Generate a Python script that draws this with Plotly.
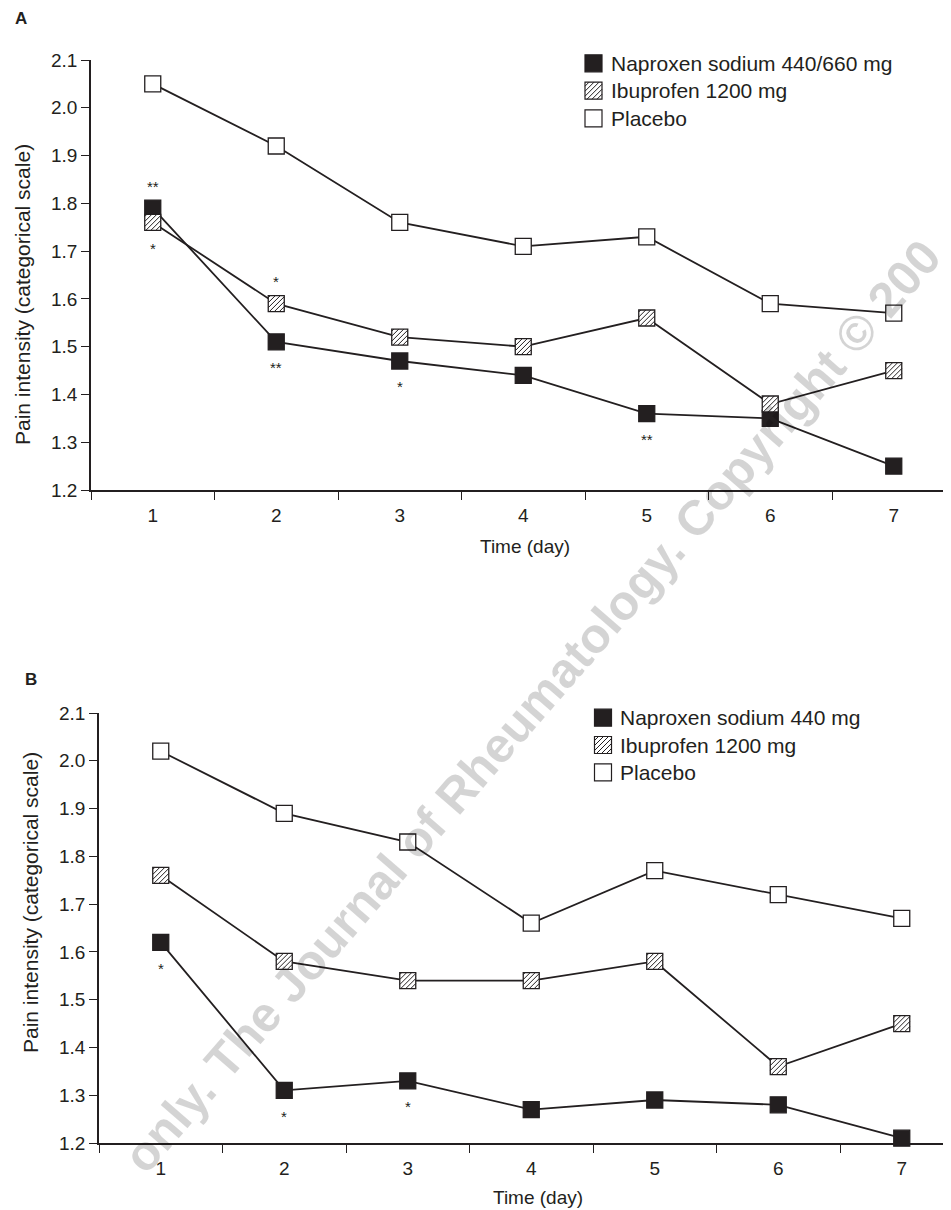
import plotly.graph_objects as go

# ---------------- data ----------------
days = [1, 2, 3, 4, 5, 6, 7]
day_labels = ["1", "2", "3", "4", "5", "6", "7"]
y_ticks = [1.2, 1.3, 1.4, 1.5, 1.6, 1.7, 1.8, 1.9, 2.0, 2.1]

naproxen_A = [1.79, 1.51, 1.47, 1.44, 1.36, 1.35, 1.25]
ibuprofen_A = [1.76, 1.59, 1.52, 1.50, 1.56, 1.38, 1.45]
placebo_A = [2.05, 1.92, 1.76, 1.71, 1.73, 1.59, 1.57]

naproxen_B = [1.62, 1.31, 1.33, 1.27, 1.29, 1.28, 1.21]
ibuprofen_B = [1.76, 1.58, 1.54, 1.54, 1.58, 1.36, 1.45]
placebo_B = [2.02, 1.89, 1.83, 1.66, 1.77, 1.72, 1.67]

legend_A = ["Naproxen sodium 440/660 mg", "Ibuprofen 1200 mg", "Placebo"]
legend_B = ["Naproxen sodium 440 mg", "Ibuprofen 1200 mg", "Placebo"]

x_title = "Time (day)"
y_title = "Pain intensity (categorical scale)"
watermark = "only. The Journal of Rheumatology. Copyright © 200"

# significance marks: (series, day, text, side)
sig_A = [("nap", 1, "**", "above"), ("ibu", 1, "*", "below"), ("ibu", 2, "*", "above"),
         ("nap", 2, "**", "below"), ("nap", 3, "*", "below"), ("nap", 5, "**", "below")]
sig_B = [("nap", 1, "*", "below"), ("nap", 2, "*", "below"), ("nap", 3, "*", "below")]

# ---------------- styling ----------------
OFF = 8                      # page body margin of the html page
W, H = 951 - OFF, 1210 - OFF
INK = "#231f20"
FONT = "Liberation Sans, Arial, Helvetica, sans-serif"
MSIZE = 16


def fx(px):
    return (px - OFF) / W


def fy(py):
    return 1 - (py - OFF) / H


def hatch_path(h=8, step=5):
    parts = []
    c = -2 * h + step
    while c < 2 * h:
        if c >= 0:
            x0, y0, x1, y1 = -h, -h + c, h - c, h
        else:
            x0, y0, x1, y1 = -h - c, -h, h, h + c
        parts.append(f"M{x0},{y0}L{x1},{y1}")
        c += step
    return "".join(parts)


HATCH = hatch_path(8, 5)

fig = go.Figure()

panels = [
    dict(xa="x", ya="y", nap=naproxen_A, ibu=ibuprofen_A, pla=placebo_A,
         left=91, top=60, bottom=490, sig=sig_A, legend=legend_A,
         lx=593.5, ltx=609, lrows=[63.3, 90.7, 118.3], label="A", lab_xy=(13, 19),
         ytitle_xy=(22, 295), xtitle_xy=(525, 546)),
    dict(xa="x2", ya="y2", nap=naproxen_B, ibu=ibuprofen_B, pla=placebo_B,
         left=99, top=713, bottom=1143, sig=sig_B, legend=legend_B,
         lx=603, ltx=618, lrows=[717.7, 745, 772.3], label="B", lab_xy=(23, 680),
         ytitle_xy=(30, 903), xtitle_xy=(538, 1197)),
]

shapes = []
annotations = []
SPACING = 123.5  # px per day

# watermark (faint, drawn semi-transparent so the data stays visible)
annotations.append(dict(x=fx(532), y=fy(706), xref="paper", yref="paper", text=watermark,
                        showarrow=False, textangle=-49,
                        font=dict(size=49, color="rgba(0,0,0,0.17)", family=FONT, weight="bold")))

for i, p in enumerate(panels):
    series = [
        ("nap", p["nap"], INK),
        ("ibu", p["ibu"], "white"),
        ("pla", p["pla"], "white"),
    ]
    for key, vals, fill in series:
        fig.add_trace(go.Scatter(
            x=days, y=vals, mode="lines+markers", xaxis=p["xa"], yaxis=p["ya"],
            line=dict(color=INK, width=1.8),
            marker=dict(symbol="square", size=MSIZE, color=fill, line=dict(color=INK, width=1.3)),
            cliponaxis=False, showlegend=False, hoverinfo="skip"))
        if key == "ibu":
            for d, v in zip(days, vals):
                shapes.append(dict(type="path", xref=p["xa"], yref=p["ya"],
                                   xsizemode="pixel", ysizemode="pixel",
                                   xanchor=d, yanchor=v, path=HATCH,
                                   line=dict(color=INK, width=1), layer="above"))
    data = {"nap": p["nap"], "ibu": p["ibu"], "pla": p["pla"]}
    for key, d, txt, side in p["sig"]:
        v = data[key][days.index(d)]
        annotations.append(dict(x=d, y=v, xref=p["xa"], yref=p["ya"], text=txt,
                                showarrow=False, font=dict(size=15, color=INK, family=FONT),
                                yshift=22 if side == "above" else -26))
    # custom legend
    fills = [INK, "white", "white"]
    for j, (name, yy) in enumerate(zip(p["legend"], p["lrows"])):
        shapes.append(dict(type="rect", xref="paper", yref="paper",
                           xsizemode="pixel", ysizemode="pixel",
                           xanchor=fx(p["lx"]), yanchor=fy(yy),
                           x0=-8.5, x1=8.5, y0=-8.5, y1=8.5,
                           fillcolor=fills[j], line=dict(color=INK, width=1.2)))
        if j == 1:
            shapes.append(dict(type="path", xref="paper", yref="paper",
                               xsizemode="pixel", ysizemode="pixel",
                               xanchor=fx(p["lx"]), yanchor=fy(yy),
                               path=hatch_path(8.5, 5), line=dict(color=INK, width=1)))
        annotations.append(dict(x=fx(p["ltx"]), y=fy(yy), xref="paper", yref="paper",
                                xanchor="left", yanchor="middle", text=name, showarrow=False,
                                font=dict(size=21, color=INK, family=FONT)))
    annotations.append(dict(x=fx(p["lab_xy"][0]), y=fy(p["lab_xy"][1]),
                            xref="paper", yref="paper", xanchor="left", yanchor="middle",
                            text="<b>" + p["label"] + "</b>", showarrow=False,
                            font=dict(size=17, color=INK, family=FONT)))
    # axis titles
    annotations.append(dict(x=fx(p["ytitle_xy"][0]), y=fy(p["ytitle_xy"][1]),
                            xref="paper", yref="paper", xanchor="center", yanchor="middle",
                            text=y_title, textangle=-90, showarrow=False,
                            font=dict(size=21, color=INK, family=FONT)))
    annotations.append(dict(x=fx(p["xtitle_xy"][0]), y=fy(p["xtitle_xy"][1]),
                            xref="paper", yref="paper", xanchor="center", yanchor="middle",
                            text=x_title, showarrow=False,
                            font=dict(size=19, color=INK, family=FONT)))

    xkey = "xaxis" if i == 0 else "xaxis2"
    ykey = "yaxis" if i == 0 else "yaxis2"
    xr = [0.5, 0.5 + (951 - p["left"]) / SPACING]
    fig.layout[xkey] = dict(
        domain=[fx(p["left"]), 1], range=xr, anchor=p["ya"], automargin=False,
        tickmode="array", tickvals=days, ticktext=day_labels, ticks="",
        ticklabelstandoff=7,
        minor=dict(tickmode="array", tickvals=[d - 0.5 for d in days] + [days[-1] + 0.5],
                   ticks="outside", ticklen=8, tickwidth=1.2, tickcolor=INK),
        showline=True, linecolor=INK, linewidth=1.5, showgrid=False, zeroline=False,
        tickfont=dict(size=19, color=INK, family=FONT),
    )
    fig.layout[ykey] = dict(
        domain=[fy(p["bottom"]), fy(p["top"])], range=[1.2, 2.1], anchor=p["xa"],
        automargin=False,
        tickmode="array", tickvals=y_ticks, ticktext=[f"{t:.1f}" for t in y_ticks],
        ticks="outside", ticklen=8, tickwidth=1.2, tickcolor=INK,
        showline=True, linecolor=INK, linewidth=1.5, showgrid=False, zeroline=False,
        tickfont=dict(size=19, color=INK, family=FONT),
    )

fig.update_layout(
    width=W, height=H, margin=dict(l=0, r=0, t=0, b=0),
    paper_bgcolor="white", plot_bgcolor="white",
    font=dict(family=FONT, color=INK),
    shapes=shapes, annotations=annotations, showlegend=False,
)

fig.write_html("out.html")
